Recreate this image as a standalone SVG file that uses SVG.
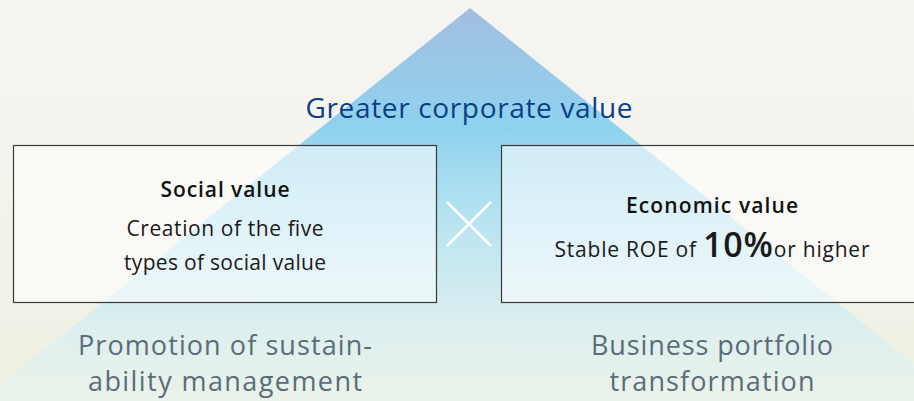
<svg xmlns="http://www.w3.org/2000/svg" width="914" height="401" viewBox="0 0 914 401">
<defs>
<linearGradient id="bg" x1="0" y1="0" x2="0" y2="1">
<stop offset="0" stop-color="#f6f5f1"/>
<stop offset="0.6" stop-color="#f3f2ea"/>
<stop offset="1" stop-color="#eef0e2"/>
</linearGradient>
<linearGradient id="tri" x1="0" y1="0" x2="0" y2="1">
<stop offset="0" stop-color="#a2bedf"/>
<stop offset="0.3" stop-color="#8fd2ee"/>
<stop offset="0.55" stop-color="#b9e4f1"/>
<stop offset="0.8" stop-color="#dcefef"/>
<stop offset="1" stop-color="#eaf3ea"/>
</linearGradient>
<style>
.box{fill:#ffffff;fill-opacity:0.55;stroke:#3a3a3a;stroke-width:1.2}
.t{font-family:"Open Sans","Noto Sans",sans-serif;text-anchor:middle}
.hd{font-size:21px;font-weight:600;fill:#111}
.bd{font-size:21px;fill:#1a1a1a}
.ft{font-size:27px;fill:#5c6c78}
</style>
</defs>
<rect width="914" height="401" fill="url(#bg)"/>
<polygon points="470,8 -20,401 960,401" fill="url(#tri)"/>
<text class="t" x="469" y="118" font-size="28" fill="#0a3f86" textLength="327">Greater corporate value</text>
<g id="social">
<rect class="box" x="13.5" y="145.5" width="423" height="157"/>
<text class="t hd" x="225" y="197" textLength="129">Social value</text>
<text class="t bd" x="225" y="236" textLength="197">Creation of the five</text>
<text class="t bd" x="225" y="270" textLength="202">types of social value</text>
</g>
<g id="economic">
<rect class="box" x="501.5" y="145.5" width="420" height="157"/>
<text class="t hd" x="712" y="213" textLength="172">Economic value</text>
<text class="t bd" x="712" y="257" textLength="315">Stable ROE of <tspan font-size="34" font-weight="600">10%</tspan>or higher</text>
</g>
<g id="connectors">
<path d="M447,202 L491,246 M491,202 L447,246" stroke="#ffffff" stroke-width="2.5" fill="none"/>
</g>
<g id="bottom-left">
<text class="t ft" x="225" y="355" textLength="294">Promotion of sustain-</text>
<text class="t ft" x="225" y="391" textLength="274">ability management</text>
</g>
<g id="bottom-right">
<text class="t ft" x="712" y="355" textLength="242">Business portfolio</text>
<text class="t ft" x="712" y="391" textLength="205">transformation</text>
</g>
</svg>
